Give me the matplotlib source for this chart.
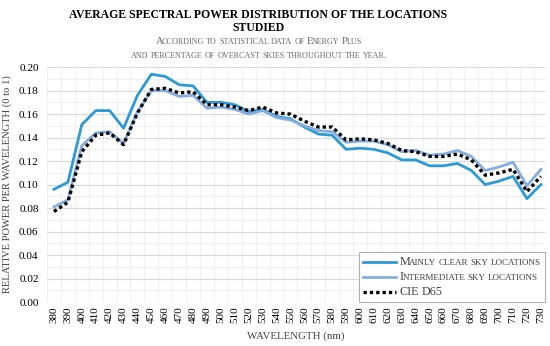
import numpy as np
import matplotlib.pyplot as plt
from matplotlib.lines import Line2D
from matplotlib.offsetbox import TextArea, HPacker, VPacker, DrawingArea, AnchoredOffsetbox

plt.rcParams['font.family'] = ['Liberation Serif', 'DejaVu Serif']

# data
wavelength = list(range(380, 731, 10))
clear_sky = [0.096, 0.102, 0.151, 0.163, 0.163, 0.148, 0.176, 0.194, 0.192, 0.185,
             0.184, 0.170, 0.170, 0.168, 0.162, 0.164, 0.158, 0.156, 0.149, 0.143,
             0.142, 0.130, 0.131, 0.130, 0.127, 0.121, 0.121, 0.116, 0.116, 0.118,
             0.112, 0.100, 0.103, 0.107, 0.088, 0.100]
intermediate = [0.081, 0.087, 0.133, 0.144, 0.145, 0.135, 0.162, 0.180, 0.180, 0.175,
                0.176, 0.165, 0.166, 0.164, 0.160, 0.163, 0.157, 0.155, 0.150, 0.146,
                0.145, 0.136, 0.137, 0.137, 0.134, 0.128, 0.129, 0.125, 0.126, 0.129,
                0.124, 0.112, 0.115, 0.119, 0.099, 0.113]
d65 = [0.077, 0.085, 0.128, 0.142, 0.144, 0.134, 0.161, 0.181, 0.182, 0.178,
       0.179, 0.168, 0.168, 0.166, 0.163, 0.166, 0.161, 0.160, 0.154, 0.149,
       0.149, 0.138, 0.139, 0.138, 0.135, 0.129, 0.128, 0.124, 0.124, 0.126,
       0.121, 0.108, 0.110, 0.113, 0.094, 0.107]

labels = ['Mainly clear sky locations', 'Intermediate sky locations', 'CIE D65']
title = 'AVERAGE SPECTRAL POWER DISTRIBUTION OF THE LOCATIONS\nSTUDIED'
subtitle = ['According to statistical data of Energy Plus',
            'and percentage of overcast skies throughout the year.']

c_clear = '#2b9ad6'
c_inter = '#85ade0'
styles = [dict(color=c_clear, lw=2.0, ls='-'),
          dict(color=c_inter, lw=2.0, ls='-'),
          dict(color='black', lw=2.4, ls=(0, (1, 0.9)), dash_capstyle='butt')]


def smallcaps(s, big, small, color):
    # fake small caps: lowercase letters are drawn upper case at a smaller size
    words = []
    for w in s.split(' '):
        runs = []
        for ch in w:
            low = ch.islower()
            if runs and runs[-1][1] == low:
                runs[-1][0] += ch
            else:
                runs.append([ch, low])
        parts = [TextArea(t.upper(), textprops=dict(size=small if low else big, color=color))
                 for t, low in runs]
        words.append(HPacker(children=parts, align='baseline', pad=0, sep=-0.9))
    return HPacker(children=words, align='baseline', pad=0, sep=0.2 * big)


fig = plt.figure(figsize=(5.5, 3.46), dpi=100)
ax = fig.add_axes([0.0855, 0.127, 0.9055, 0.679])

for vals, lab, st in zip([clear_sky, intermediate, d65], labels, styles):
    ax.plot(wavelength, vals, label=lab, **st)

ax.set_xlim(377, 733)
ax.set_ylim(0, 0.2)
ax.set_xticks(wavelength)
ax.set_xticklabels([str(w) for w in wavelength], rotation=90, fontsize=8)
ax.set_xticks(np.arange(375, 735, 5), minor=True)
ax.set_yticks(np.arange(0, 0.201, 0.02))
ax.set_yticklabels(['%.2f' % v for v in np.arange(0, 0.201, 0.02)], fontsize=8.2)
ax.set_yticks(np.arange(0, 0.201, 0.01), minor=True)
ax.tick_params(which='both', length=0)
ax.tick_params(axis='y', pad=6)
ax.tick_params(axis='x', pad=3)
ax.grid(which='major', axis='y', color='#d9d9d9', lw=0.8)
ax.grid(which='minor', axis='y', color='#eeeeee', lw=0.6)
ax.grid(which='minor', axis='x', color='#eeeeee', lw=0.6)
ax.set_axisbelow(True)
for sp in ax.spines.values():
    sp.set_visible(False)

ax.set_xlabel('WAVELENGTH (nm)', fontsize=7.8, color='#404040', labelpad=6)
ax.set_ylabel('RELATIVE POWER PER WAVELENGTH (0 to 1)', fontsize=7.6, color='#404040', labelpad=5)

fig.text(0.47, 1 - 8.5 / 346, title, ha='center', va='top', fontsize=8.5, fontweight='bold',
         linespacing=1.15)

sub = VPacker(children=[smallcaps(s, 7.6, 5.9, '#6a6a6a') for s in subtitle],
              align='center', pad=0, sep=3.0)
fig.add_artist(AnchoredOffsetbox(loc='center', child=sub, frameon=False, pad=0, borderpad=0,
                                 bbox_to_anchor=(0.47, 1 - 48.5 / 346),
                                 bbox_transform=fig.transFigure))

# legend built by hand so the labels can be small caps
rows = []
for lab, st in zip(labels, styles):
    da = DrawingArea(24, 8, 0, 0)
    da.add_artist(Line2D([0, 24], [4, 4], **st))
    rows.append(HPacker(children=[da, smallcaps(lab, 8.7, 6.5, '#404040')],
                        align='center', pad=0, sep=2.5))
leg_box = VPacker(children=rows, align='left', pad=0, sep=2.2)
leg = AnchoredOffsetbox(loc='lower right', child=leg_box, frameon=True, pad=0.3, borderpad=0,
                        bbox_to_anchor=(1, 0), bbox_transform=ax.transAxes)
leg.patch.set_edgecolor('#b0b0b0')
leg.patch.set_linewidth(0.8)
leg.patch.set_facecolor('white')
ax.add_artist(leg)

fig.savefig('out.png', dpi=100)
